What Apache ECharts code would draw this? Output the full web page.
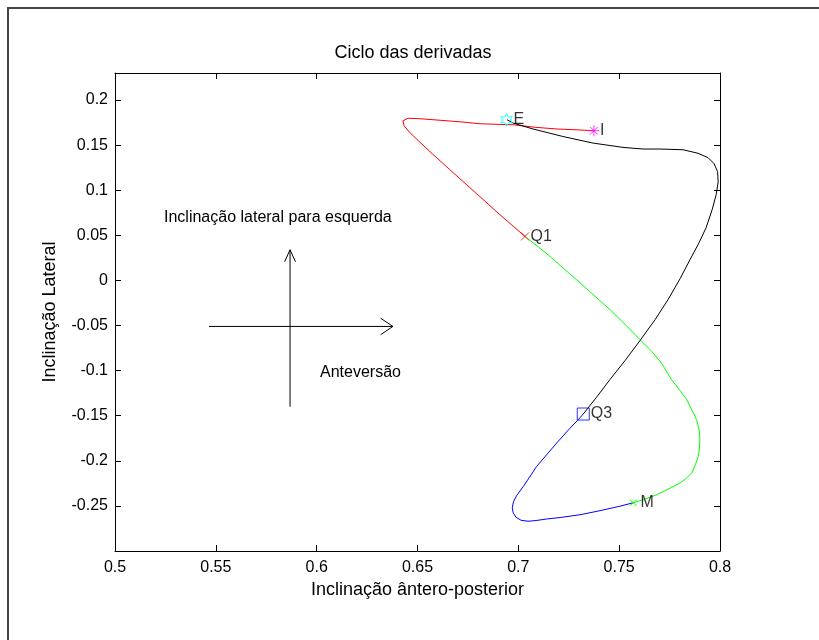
<!DOCTYPE html>
<html>
<head>
<meta charset="utf-8">
<script src="https://cdn.jsdelivr.net/npm/echarts@6/dist/echarts.min.js"></script>
<style>html,body{margin:0;padding:0;background:#fff;}#c{width:819px;height:640px;}</style>
</head>
<body>
<div id="c"></div>
<script>
// ---- data ----
const redX   = [0.7375,0.7281,0.7192,0.7083,0.6974,0.6810,0.6711,0.6612,0.6512,0.6453,0.6428,0.6433,0.6463,0.6562,0.6661,0.6810,0.6909,0.7033];
const redY   = [0.1660,0.1671,0.1679,0.1698,0.1726,0.1737,0.1759,0.1776,0.1793,0.1798,0.1771,0.1715,0.1637,0.1427,0.1227,0.0928,0.0728,0.0488];
const greenX = [0.7033,0.7098,0.7165,0.7231,0.7306,0.7380,0.7455,0.7529,0.7603,0.7663,0.7712,0.7760,0.7802,0.7835,0.7860,0.7884,0.7898,0.7900,0.7898,0.7892,0.7878,0.7860,0.7831,0.7802,0.7742,0.7686,0.7620,0.7570];
const greenY = [0.0488,0.0374,0.0252,0.0119,-0.0026,-0.0175,-0.0325,-0.0486,-0.0657,-0.0790,-0.0924,-0.1100,-0.1223,-0.1322,-0.1433,-0.1544,-0.1677,-0.1766,-0.1866,-0.1951,-0.2043,-0.2135,-0.2198,-0.2246,-0.2315,-0.2376,-0.2431,-0.2465];
const blueX  = [0.7570,0.7504,0.7405,0.7306,0.7207,0.7141,0.7088,0.7048,0.7013,0.6988,0.6974,0.6970,0.6976,0.6991,0.7025,0.7091,0.7190,0.7256,0.7297,0.7322];
const blueY  = [-0.2465,-0.2503,-0.2553,-0.2598,-0.2629,-0.2645,-0.2662,-0.2670,-0.2659,-0.2625,-0.2575,-0.2520,-0.2453,-0.2387,-0.2284,-0.2062,-0.1803,-0.1639,-0.1544,-0.1481];
const blackX = [0.7322,0.7390,0.7454,0.7529,0.7603,0.7678,0.7742,0.7802,0.7851,0.7896,0.7931,0.7961,0.7981,0.7991,0.7988,0.7971,0.7941,0.7891,0.7817,0.7702,0.7618,0.7519,0.7370,0.7221,0.7073,0.6974,0.6944];
const blackY = [-0.1481,-0.1289,-0.1100,-0.0889,-0.0668,-0.0435,-0.0214,0.0019,0.0229,0.0418,0.0584,0.0784,0.0951,0.1094,0.1205,0.1294,0.1361,0.1410,0.1449,0.1457,0.1457,0.1475,0.1523,0.1596,0.1679,0.1745,0.1782];

const markerNames = ['I','E','Q1','M','Q3'];
const markerX = [0.7375,0.6942,0.7033,0.7570,0.7322];
const markerY = [0.1660,0.1782,0.0488,-0.2465,-0.1481];

// annotation arrows (data coordinates)
const arrowVX = [0.5868,0.5868];
const arrowVY = [-0.140,0.034];
const headVX  = [0.5841,0.5868,0.5895];
const headVY  = [0.0207,0.034,0.0207];
const arrowHX = [0.5466,0.6378];
const arrowHY = [-0.051,-0.051];
const headHX  = [0.6317,0.6378,0.6317];
const headHY  = [-0.0419,-0.051,-0.0602];

const xTicks = {min:0.5,max:0.8,interval:0.05};
const yTicks = {min:-0.3,max:0.23,interval:0.05};

// ---- chart ----
const FONT = '"Liberation Sans", Arial, sans-serif';
const zip = (a,b) => a.map((v,i)=>[v,b[i]]);
const fmt = v => String(Math.round(v*100)/100);

const chart = echarts.init(document.getElementById('c'), null, {renderer:'canvas'});

function lineSeries(xs, ys, color){
  return {type:'line', data:zip(xs,ys), symbol:'none', showSymbol:false, silent:true,
    lineStyle:{color:color,width:1}, emphasis:{disabled:true}, animation:false, z:3};
}

const hexPts = [];
for(let k=0;k<12;k++){
  const r = k%2===0 ? 10 : 5.77;
  const a = -Math.PI/2 + k*Math.PI/6;
  hexPts.push((10+r*Math.cos(a)).toFixed(2)+' '+(10+r*Math.sin(a)).toFixed(2));
}
const hexPath = 'path://M'+hexPts.join(' L')+' Z';

const markerStyles = {
  'I':  {symbol:'path://M10 0L10 20M0 10L20 10M3 3L17 17M3 17L17 3', size:[11,11], color:'#FF00FF', dist:-2},
  'E':  {symbol:hexPath, size:[11,12], color:'#00FFFF', dist:-1},
  'Q1': {symbol:'path://M0 0L10 10M0 10L10 0', size:[8,8], color:'#FF0000', dist:-1},
  'M':  {symbol:'path://M0 0L10 10M0 10L10 0', size:[7,6], color:'#00FF00', dist:1},
  'Q3': {symbol:'rect', size:[12,12], color:'#0000FF', dist:-1}
};

const markerSeries = markerNames.map((n,i)=>{
  const s = markerStyles[n];
  return {type:'scatter', data:[[markerX[i],markerY[i]]], symbol:s.symbol, symbolSize:s.size, silent:true,
    itemStyle:{color:'none', borderColor:s.color, borderWidth:1}, z:5,
    label:{show:true, formatter:n, position:'right', distance:s.dist, color:'#000', fontSize:16, fontFamily:FONT},
    emphasis:{disabled:true}};
});

const annSeries = [
  lineSeries(arrowVX,arrowVY,'#000'), lineSeries(headVX,headVY,'#000'),
  lineSeries(arrowHX,arrowHY,'#000'), lineSeries(headHX,headHY,'#000')
];

const axisCommon = {
  axisLine:{show:true,onZero:false,lineStyle:{color:'#000',width:1}},
  axisTick:{show:true,inside:true,length:6,lineStyle:{color:'#000',width:1}},
  splitLine:{show:false}
};

const option = {
  animation:false,
  backgroundColor:'#fff',
  grid:{left:115,right:99,top:73,bottom:89},
  xAxis:[
    Object.assign({type:'value',position:'bottom',min:xTicks.min,max:xTicks.max,interval:xTicks.interval,
      axisLabel:{margin:9,fontSize:16,color:'#000',fontFamily:FONT,formatter:fmt,showMinLabel:true,showMaxLabel:true},
      name:'Inclinação ântero-posterior',nameLocation:'middle',nameGap:30,
      nameTextStyle:{fontSize:18,color:'#000',fontFamily:FONT}}, axisCommon),
    Object.assign({type:'value',position:'top',min:xTicks.min,max:xTicks.max,interval:xTicks.interval,
      axisLabel:{show:false}}, axisCommon)
  ],
  yAxis:[
    Object.assign({type:'value',position:'left',min:yTicks.min,max:yTicks.max,interval:yTicks.interval,
      axisLabel:{margin:7,fontSize:16,color:'#000',fontFamily:FONT,formatter:fmt,showMinLabel:false,showMaxLabel:false},
      name:'Inclinação Lateral',nameLocation:'middle',nameGap:56,
      nameTextStyle:{fontSize:18,color:'#000',fontFamily:FONT}}, axisCommon),
    Object.assign({type:'value',position:'right',min:yTicks.min,max:yTicks.max,interval:yTicks.interval,
      axisLabel:{show:false}}, axisCommon)
  ],
  graphic:[
    {type:'rect',shape:{x:8,y:8,width:1200,height:1200},style:{fill:'none',stroke:'#444',lineWidth:2},silent:true,z:-10},
    {type:'text',x:413,y:53,style:{text:'Ciclo das derivadas',fontSize:18,fontFamily:FONT,fill:'#000',align:'center',verticalAlign:'middle'},silent:true},
    {type:'text',x:164,y:218,style:{text:'Inclinação lateral para esquerda',fontSize:16,fontFamily:FONT,fill:'#000',align:'left',verticalAlign:'middle'},silent:true},
    {type:'text',x:320,y:373,style:{text:'Anteversão',fontSize:16,fontFamily:FONT,fill:'#000',align:'left',verticalAlign:'middle'},silent:true}
  ],
  series:[
    lineSeries(redX,redY,'#FF0000'),
    lineSeries(greenX,greenY,'#00FF00'),
    lineSeries(blueX,blueY,'#0000FF'),
    lineSeries(blackX,blackY,'#000000'),
    ...annSeries,
    ...markerSeries
  ]
};
chart.setOption(option);
</script>
</body>
</html>
